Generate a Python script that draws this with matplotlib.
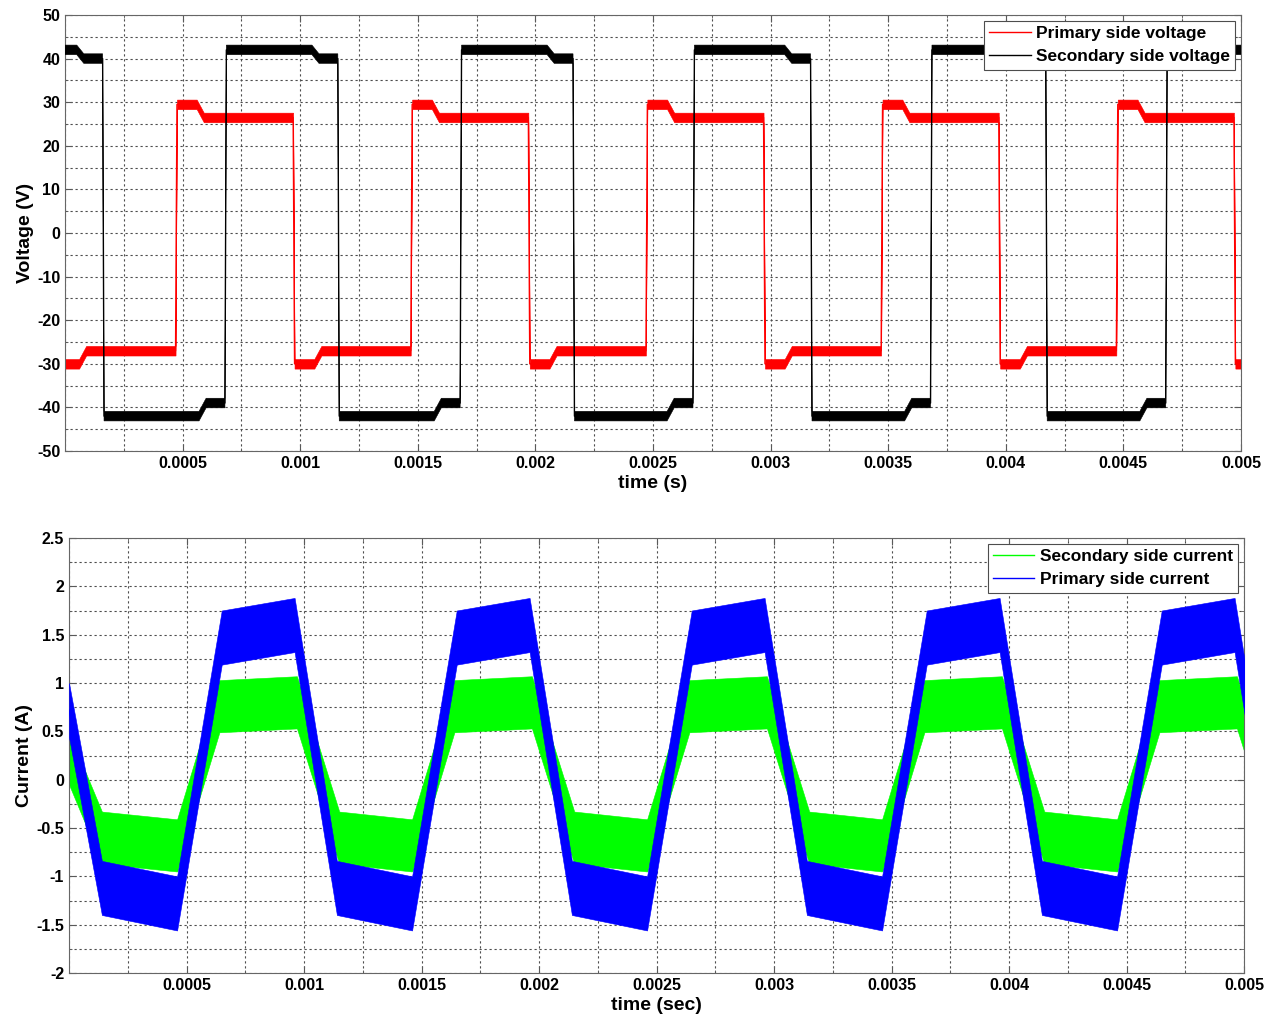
import numpy as np
import matplotlib
matplotlib.use("Agg")
import matplotlib.pyplot as plt
from matplotlib.ticker import MultipleLocator

plt.rcParams['font.family'] = ['Liberation Sans', 'DejaVu Sans']
plt.rcParams['font.weight'] = 'bold'
plt.rcParams['axes.labelweight'] = 'bold'
plt.rcParams['axes.unicode_minus'] = False

# ---- voltage switching instants (s) and levels (V) ----
red_rise = [0.00047, 0.00147, 0.00247, 0.00347, 0.00447]
red_fall = [-0.00003, 0.00097, 0.00197, 0.00297, 0.00397, 0.00497]
red_hi = (29.5, 26.5)      # just after turn-on, settled
red_lo = (-30.0, -27.0)
red_hw = 1.1               # ripple half width

blk_rise = [-0.00033, 0.00068, 0.00168, 0.00267, 0.00368, 0.00468]
blk_fall = [0.00016, 0.00116, 0.00216, 0.00317, 0.00417, 0.00517]
blk_hi = (42.0, 40.0)      # plateau, level before turn-off
blk_lo = (-42.0, -39.0)
blk_hw = 1.1

# ---- current ramps (s) and plateau levels (A) ----
pri_down = [0.00096, 0.00196, 0.00296, 0.00396, 0.00496]
pri_up = [0.00046, 0.00146, 0.00246, 0.00346, 0.00446]
pri_start = 0.72
pri_lo = (-1.12, -1.28)
pri_hi = (1.47, 1.60)
pri_hw = 0.28

sec_down = [0.00097, 0.00197, 0.00297, 0.00397, 0.00497]
sec_up = [0.00046, 0.00146, 0.00246, 0.00346, 0.00446]
sec_start = 0.22
sec_lo = (-0.60, -0.68)
sec_hi = (0.76, 0.80)
sec_hw = 0.27

x_ticks = [0.0005, 0.001, 0.0015, 0.002, 0.0025, 0.003, 0.0035, 0.004, 0.0045, 0.005]
x_labels = ['0.0005', '0.001', '0.0015', '0.002', '0.0025', '0.003', '0.0035', '0.004', '0.0045', '0.005']
v_ticks = [-50, -40, -30, -20, -10, 0, 10, 20, 30, 40, 50]
v_labels = ['-50', '-40', '-30', '-20', '-10', '0', '10', '20', '30', '40', '50']
i_ticks = [-2, -1.5, -1, -0.5, 0, 0.5, 1, 1.5, 2, 2.5]
i_labels = ['-2', '-1.5', '-1', '-0.5', '0', '0.5', '1', '1.5', '2', '2.5']

EDGE = 0.000006
T_END = 0.0052


def primary_voltage():
    ev = sorted([(t, 'r') for t in red_rise] + [(t, 'f') for t in red_fall])
    pts = []
    for i, (t, k) in enumerate(ev):
        first, settled = red_hi if k == 'r' else red_lo
        t_next = ev[i + 1][0] if i + 1 < len(ev) else T_END
        pts += [(t + EDGE, first), (t + 0.00009, first),
                (t + 0.00012, settled), (t_next, settled)]
    return np.array(pts).T


def secondary_voltage():
    ev = sorted([(t, 'r') for t in blk_rise] + [(t, 'f') for t in blk_fall])
    pts = []
    for i, (t, k) in enumerate(ev):
        first, settled = blk_hi if k == 'r' else blk_lo
        t_next = ev[i + 1][0] if i + 1 < len(ev) else T_END
        pts += [(t + EDGE, first), (t_next - 0.00011, first),
                (t_next - 0.00008, settled), (t_next, settled)]
    return np.array(pts).T


def current(start, ups, downs, lo, hi, t_up, t_down):
    pts = [(0.0, start), (ups[0] - 0.00032, lo[0])]
    for k, tu in enumerate(ups):
        pts += [(tu, lo[1]), (tu + t_up, hi[0]), (downs[k], hi[1])]
        pts += [(downs[k] + t_down, lo[0])]
    return np.array(pts).T


fig = plt.figure(figsize=(12.73, 10.21), dpi=100)
ax1 = fig.add_axes([65 / 1273, 1 - 451 / 1021, 1176 / 1273, 436 / 1021])
ax2 = fig.add_axes([69 / 1273, 1 - 973 / 1021, 1175 / 1273, 435 / 1021])

# voltages
t, v = primary_voltage()
ax1.fill_between(t, v - red_hw, v + red_hw, color='red', lw=0.4, zorder=2)
ax1.plot(t, v, color='red', lw=1.0, label='Primary side voltage', zorder=2)
t, v = secondary_voltage()
ax1.fill_between(t, v - blk_hw, v + blk_hw, color='black', lw=0.4, zorder=3)
ax1.plot(t, v, color='black', lw=1.0, label='Secondary side voltage', zorder=3)

# currents
t, c = current(sec_start, sec_up, sec_down, sec_lo, sec_hi, 0.00018, 0.00018)
ax2.fill_between(t, c - sec_hw, c + sec_hw, color='#00ff00', lw=0.4, zorder=2)
ax2.plot(t, c, color='#00ff00', lw=1.0, label='Secondary side current', zorder=2)
t, c = current(pri_start, pri_up, pri_down, pri_lo, pri_hi, 0.00019, 0.00018)
ax2.fill_between(t, c - pri_hw, c + pri_hw, color='#0000ff', lw=0.4, zorder=3)
ax2.plot(t, c, color='#0000ff', lw=1.0, label='Primary side current', zorder=3)

for ax in (ax1, ax2):
    ax.set_xlim(0, 0.005)
    ax.set_xticks(x_ticks)
    ax.set_xticklabels(x_labels)
    ax.xaxis.set_minor_locator(MultipleLocator(0.00025))
    ax.grid(True, which='both', linestyle=(0, (2, 2.5)), color='0.3', lw=0.8)
    ax.set_axisbelow(True)
    ax.tick_params(which='both', direction='in', top=True, right=True,
                   labelsize=11.5, colors='0.35', labelcolor='black')
    ax.tick_params(which='major', length=5)
    ax.tick_params(which='minor', length=2.5)
    for s in ax.spines.values():
        s.set_color('0.4')
    leg = ax.legend(loc='upper right', fontsize=12.5, fancybox=False,
                    framealpha=1, edgecolor='0.3', handlelength=2.4,
                    labelspacing=0.45, borderpad=0.3, borderaxespad=0.35,
                    handletextpad=0.3)
    leg.get_frame().set_linewidth(0.8)

ax1.set_ylim(-50, 50)
ax1.set_yticks(v_ticks)
ax1.set_yticklabels(v_labels)
ax1.yaxis.set_minor_locator(MultipleLocator(5))
ax1.set_xlabel('time (s)', fontsize=14, labelpad=3)
ax1.set_ylabel('Voltage (V)', fontsize=14, labelpad=2)

ax2.set_ylim(-2, 2.5)
ax2.set_yticks(i_ticks)
ax2.set_yticklabels(i_labels)
ax2.yaxis.set_minor_locator(MultipleLocator(0.25))
ax2.set_xlabel('time (sec)', fontsize=14, labelpad=3)
ax2.set_ylabel('Current (A)', fontsize=14, labelpad=2)

fig.savefig('out.png', dpi=100)
